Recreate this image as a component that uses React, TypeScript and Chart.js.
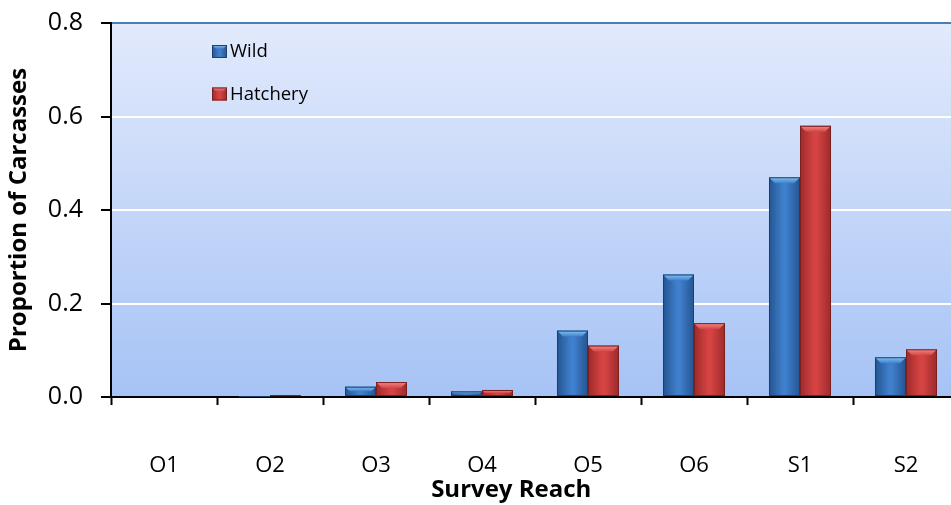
import React, { useEffect, useRef } from "react";
import { Chart, registerables } from "chart.js";

Chart.register(...registerables);

const categories = ["O1", "O2", "O3", "O4", "O5", "O6", "S1", "S2"];
const wildValues = [0, 0.001, 0.022, 0.012, 0.142, 0.262, 0.47, 0.085];
const hatcheryValues = [0, 0.004, 0.032, 0.015, 0.11, 0.158, 0.58, 0.102];
const seriesNames = ["Wild", "Hatchery"];
const yTickValues = [0, 0.2, 0.4, 0.6, 0.8];
const yTitle = "Proportion of Carcasses";
const xTitle = "Survey Reach";

const FONT = "'Open Sans', Lato, sans-serif";

const palettes = [
  { edge: "#24548f", mid: "#3f7fcc", light: "#86c4f4", border: "#1d416e", base: "#3a74bd" },
  { edge: "#9c2a2a", mid: "#d54343", light: "#f48a8a", border: "#7a2020", base: "#c93a3a" },
];

function drawBarShape(ctx: CanvasRenderingContext2D, x0: number, x1: number, top: number, bottom: number, p: any) {
  const w = x1 - x0;
  const h = bottom - top;
  if (h <= 0 || w <= 0) return;
  const g = ctx.createLinearGradient(x0, 0, x1, 0);
  g.addColorStop(0, p.edge);
  g.addColorStop(0.45, p.mid);
  g.addColorStop(0.55, p.mid);
  g.addColorStop(1, p.edge);
  ctx.fillStyle = g;
  ctx.fillRect(x0, top, w, h);
  const b = Math.min(6, h / 2, w / 4);
  if (b > 0.8) {
    const tg = ctx.createLinearGradient(0, top, 0, top + b);
    tg.addColorStop(0, p.light);
    tg.addColorStop(1, p.mid);
    ctx.fillStyle = tg;
    ctx.beginPath();
    ctx.moveTo(x0, top);
    ctx.lineTo(x1, top);
    ctx.lineTo(x1 - b, top + b);
    ctx.lineTo(x0 + b, top + b);
    ctx.closePath();
    ctx.fill();
  }
  ctx.strokeStyle = p.border;
  ctx.lineWidth = 1;
  ctx.strokeRect(x0 + 0.5, top + 0.5, w - 1, Math.max(h - 1, 0));
}

const decorPlugin = {
  id: "decor",
  beforeDraw(chart: any) {
    const { ctx, chartArea: a } = chart;
    ctx.save();
    const g = ctx.createLinearGradient(0, a.top, 0, a.bottom);
    g.addColorStop(0, "#e2eafc");
    g.addColorStop(1, "#a6c3f5");
    ctx.fillStyle = g;
    ctx.fillRect(a.left, a.top, a.right - a.left, a.bottom - a.top);
    ctx.restore();
  },
  afterDatasetsDraw(chart: any) {
    const { ctx, chartArea: a } = chart;
    ctx.save();
    ctx.beginPath();
    ctx.rect(a.left, a.top, a.right - a.left, a.bottom - a.top);
    ctx.clip();
    chart.data.datasets.forEach((_ds: any, di: number) => {
      const meta = chart.getDatasetMeta(di);
      meta.data.forEach((el: any) => {
        const x0 = el.x - el.width / 2;
        const x1 = el.x + el.width / 2;
        drawBarShape(ctx, x0, x1, el.y, el.base, palettes[di]);
      });
    });
    ctx.restore();

    // legend inside plot area
    ctx.save();
    ctx.font = `18.5px ${FONT}`;
    ctx.textBaseline = "middle";
    const lx = a.left + 101;
    const rows = [a.top + 28.5, a.top + 71];
    seriesNames.forEach((name, i) => {
      drawBarShape(ctx, lx, lx + 15, rows[i] - 6.5, rows[i] + 6.5, palettes[i]);
      ctx.fillStyle = "#000";
      ctx.textAlign = "left";
      ctx.fillText(name, lx + 18, rows[i] + 0.5);
    });
    ctx.restore();

    // x axis title
    ctx.save();
    ctx.font = `bold 24px ${FONT}`;
    ctx.fillStyle = "#000";
    ctx.textAlign = "center";
    ctx.textBaseline = "middle";
    ctx.fillText(xTitle, a.left + (a.right - a.left) * 0.472, chart.height - 15);
    ctx.restore();
  },
};

export default function App() {
  const ref = useRef<HTMLCanvasElement | null>(null);
  useEffect(() => {
    if (!ref.current) return;
    const chart = new Chart(ref.current, {
      type: "bar",
      data: {
        labels: categories,
        datasets: [
          { label: seriesNames[0], data: wildValues, backgroundColor: palettes[0].base, borderWidth: 0 },
          { label: seriesNames[1], data: hatcheryValues, backgroundColor: palettes[1].base, borderWidth: 0 },
        ],
      },
      options: {
        responsive: false,
        animation: false,
        layout: { padding: { top: 23, right: 3, left: 0, bottom: 0 } },
        datasets: { bar: { categoryPercentage: 0.585, barPercentage: 1 } },
        plugins: { legend: { display: false }, tooltip: { enabled: false } },
        scales: {
          x: {
            afterFit: (s: any) => {
              s.height = 108;
              s.paddingLeft = 0;
              s.paddingRight = 0;
            },
            grid: {
              offset: true,
              drawOnChartArea: false,
              tickLength: 8,
              tickColor: "#000",
              tickWidth: 2,
            },
            border: { color: "#000", width: 2 },
            ticks: { color: "#000", font: { family: FONT, size: 22 }, padding: 48 },
          },
          y: {
            min: 0,
            max: 0.8,
            afterFit: (s: any) => {
              s.width = 111;
              s.paddingTop = 0;
              s.paddingBottom = 0;
            },
            afterBuildTicks: (s: any) => {
              s.ticks = yTickValues.map((v) => ({ value: v }));
            },
            grid: {
              color: (c: any) => {
                const v = c.tick ? c.tick.value : null;
                if (v === 0) return "rgba(0,0,0,0)";
                if (v !== null && Math.abs(v - 0.8) < 1e-9) return "#4a7ebb";
                return "#ffffff";
              },
              lineWidth: 2,
              tickLength: 10,
              tickColor: "#000",
              tickWidth: 2,
            },
            border: { color: "#000", width: 2 },
            ticks: {
              color: "#000",
              font: { family: FONT, size: 25 },
              padding: 18,
              callback: (v: any) => Number(v).toFixed(1),
            },
            title: {
              display: true,
              text: yTitle,
              color: "#000",
              font: { family: FONT, size: 24, weight: "bold" },
              padding: { top: 5, bottom: 0 },
            },
          },
        },
      },
      plugins: [decorPlugin],
    });
    return () => chart.destroy();
  }, []);
  return (
    <div style={{ position: "fixed", left: 0, top: 0, width: 951, height: 505, overflow: "hidden", background: "#fff" }}>
      <canvas ref={ref} width={962} height={505} style={{ display: "block" }} />
    </div>
  );
}
